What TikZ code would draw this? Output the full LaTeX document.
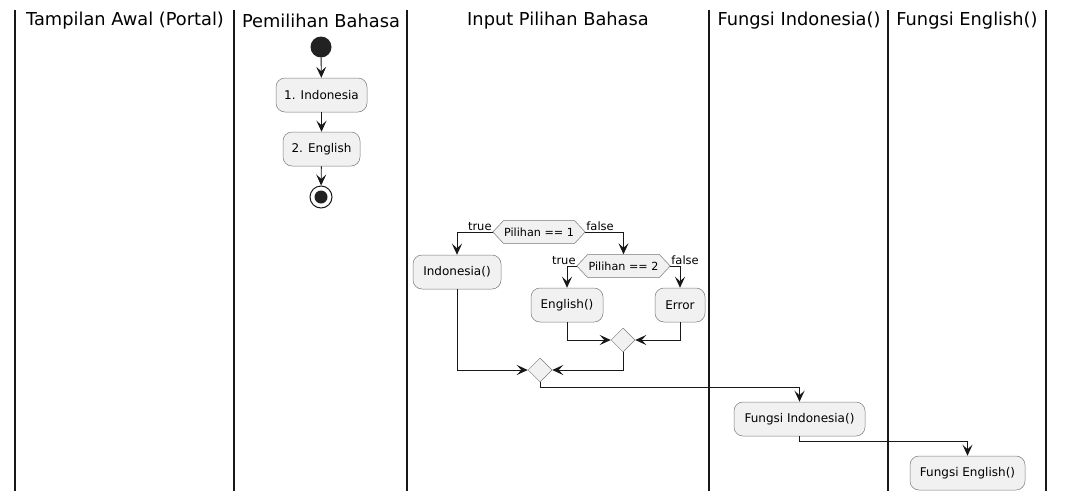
\documentclass[tikz,border=0pt]{standalone}
\usepackage{fontspec}
\setmainfont{DejaVu Sans}
\usetikzlibrary{arrows.meta,calc,shapes.geometric}
\definecolor{boxfill}{HTML}{F1F1F1}
\definecolor{boxline}{HTML}{7A7A7A}
\definecolor{ink}{HTML}{181818}
\definecolor{dot}{HTML}{222222}
\tikzset{
  lane/.style={line width=1.3pt, draw=ink},
  lanetitle/.style={font=\fontsize{17.8}{20}\selectfont, text=black, inner sep=0pt},
  actbox/.style={draw=boxline, fill=boxfill, line width=0.5pt, rounded corners=9pt,
    minimum height=34pt, inner sep=0pt, font=\fontsize{12}{14}\selectfont},
  hexlabel/.style={inner sep=0pt, minimum height=23pt, font=\fontsize{11.2}{13}\selectfont},
  hexshape/.style={draw=boxline, fill=boxfill, line width=0.5pt},
  mergebox/.style={draw=boxline, fill=boxfill, line width=0.5pt, shape=diamond, minimum width=24pt, minimum height=24pt, inner sep=0pt},
  flow/.style={draw=ink, line width=0.9pt, -{Stealth[length=11pt,width=10pt,inset=4.5pt]}},
  branch/.style={font=\fontsize{11.5}{13}\selectfont, inner sep=1pt},
}
\begin{document}
\begin{tikzpicture}[x=1pt,y=-1pt]
\useasboundingbox[fill=white] (0,0) rectangle (1065,501);
% swimlanes
\foreach \xx/\nm in {15/l0,234/l1,407/l2,709/l3,888/l4,1046/l5}{
  \coordinate (\nm t) at (\xx,10);
  \coordinate (\nm b) at (\xx,491);
  \draw[lane] (\nm t) -- (\nm b);
}
\node[lanetitle] (t1) at (125,21) {Tampilan Awal (Portal)};
\node[lanetitle] (t2) at (321,21) {Pemilihan Bahasa};
\node[lanetitle] (t3) at (558,21) {Input Pilihan Bahasa};
\node[lanetitle] (t4) at (799,21) {Fungsi Indonesia()};
\node[lanetitle] (t5) at (967,21) {Fungsi English()};

% lane 2
\node[circle, fill=dot, minimum size=21pt, inner sep=0pt] (start) at (321,47) {};
\node[actbox, minimum width=91pt] (ind) at (321.5,95) {1. Indonesia};
\node[actbox, minimum width=77pt] (eng) at (321.5,149) {2. English};
\node[circle, draw=ink, line width=1pt, fill=white, minimum size=22pt, inner sep=0pt] (stop) at (321,197) {};
\node[circle, fill=dot, minimum size=13pt, inner sep=0pt] (stopin) at (321,197) {};
\draw[flow] (start) -- (ind);
\draw[flow] (ind) -- (eng);
\draw[flow] (eng) -- (stop);

% lane 3
\node[hexlabel, minimum width=92pt] (d1) at (539,232) {Pilihan == 1};
\node[hexlabel, minimum width=93pt] (d2) at (623.5,266) {Pilihan == 2};
\foreach \d in {d1,d2}{
  \draw[hexshape] (\d.west) -- ($(\d.north west)+(11,0)$) -- ($(\d.north east)+(-11,0)$)
     -- (\d.east) -- ($(\d.south east)+(-11,0)$) -- ($(\d.south west)+(11,0)$) -- cycle;
}
\node[hexlabel, minimum width=92pt] at (d1) {Pilihan == 1};
\node[hexlabel, minimum width=93pt] at (d2) {Pilihan == 2};

\node[actbox, minimum width=88pt] (indf) at (457,272) {Indonesia()};
\node[actbox, minimum width=72pt] (engf) at (567,305) {English()};
\node[actbox, minimum width=50pt] (err) at (680,305) {Error};
\node[mergebox] (m1) at (623,340) {};
\node[mergebox] (m2) at (540,370) {};

\draw[flow] (d1.west) -| (indf.north);
\draw[flow] (d1.east) -| (d2.north);
\draw[flow] (d2.west) -| (engf.north);
\draw[flow] (d2.east) -| (err.north);
\node[branch, anchor=south east] at (d1.west) {true};
\node[branch, anchor=south west] at (d1.east) {false};
\node[branch, anchor=south east] at (d2.west) {true};
\node[branch, anchor=south west] at (d2.east) {false};

\draw[flow] (engf.south) |- (m1.west);
\draw[flow] (err.south) |- (m1.east);
\draw[flow] (indf.south) |- (m2.west);
\draw[flow] (m1.south) |- (m2.east);

% lanes 4,5
\node[actbox, minimum width=131pt] (fi) at (799.5,419) {Fungsi Indonesia()};
\node[actbox, minimum width=115pt] (fe) at (967.5,473) {Fungsi English()};
\coordinate (c1) at (540,387);
\coordinate (c2) at (799.5,441);
\draw[flow] (m2.south) -- (c1) -| (fi.north);
\draw[flow] (fi.south) -- (c2) -| (fe.north);
\end{tikzpicture}
\end{document}
